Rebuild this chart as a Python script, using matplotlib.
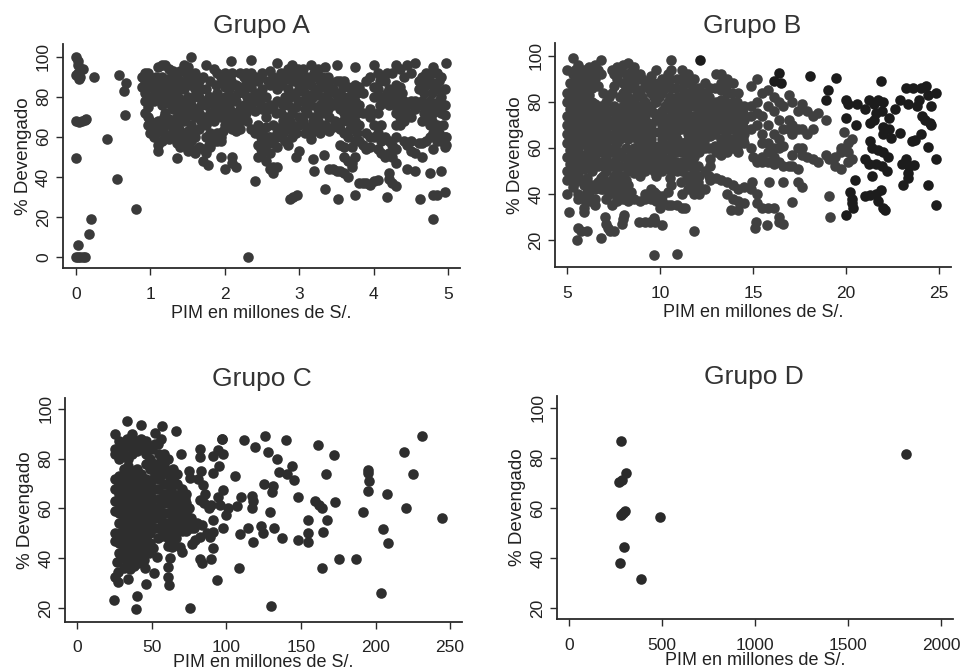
import matplotlib
matplotlib.use("Agg")
import matplotlib.pyplot as plt

plt.rcParams['font.family'] = ['Liberation Sans', 'DejaVu Sans']

# (PIM, % devengado)
grupo_a = [
 (0,100),(0.02,98),(0.02,96),(0.03,92),(0,91),(0.05,90),(0.04,89),(0.1,94),(0.24,90),(0,68),(0.04,67.5),(0.08,68),(0.12,68.5),(0.13,69),
 (0.42,59),(0,49.5),(0.55,39),(0.81,24),(0.2,19),(0.18,11.5),(0.03,6),(0,0),(0.03,0),(0.05,0),(0.1,0),(0.12,0),(2.31,0),(0.58,91),(0.67,87),(0.64,83),(0.66,71),
 (0.88,90),(0.88,85),(0.92,92),(0.92,88),(0.92,82),(0.92,78),(0.92,72),(0.97,92),(0.97,85),(0.97,75),(0.97,70),(0.97,66),(1.0,90),(1.0,80),(1.0,62),(1.0,68),
 (1.05,88),(1.05,84),(1.05,78),(1.05,65),(1.05,60),(1.1,95),(1.1,86),(1.1,80),(1.1,68),(1.1,56),(1.1,53),(1.15,96),(1.15,90),(1.15,83),(1.15,76),(1.15,65),(1.15,58),
 (1.2,96),(1.2,88),(1.2,82),(1.2,72),(1.2,66),(1.2,60),(1.25,94),(1.25,85),(1.25,78),(1.25,69),(1.25,59),(1.3,93),(1.3,86),(1.3,80),(1.3,74),(1.3,63),(1.3,60),
 (1.35,90),(1.35,82),(1.35,76),(1.35,70),(1.35,66),(1.35,57),(1.35,49.5),(1.4,93),(1.4,88),(1.4,79),(1.4,72),(1.4,61),(1.4,55),(1.45,96),(1.45,84),(1.45,75),(1.45,68),(1.45,58),
 (1.5,95),(1.5,90),(1.5,80),(1.5,72),(1.5,63),(1.5,53),(1.55,100),(1.55,86),(1.55,76),(1.55,66),(1.55,58),(1.55,54),(1.6,92),(1.6,84),(1.6,74),(1.6,70),(1.6,60),(1.6,52),
 (1.65,88),(1.65,80),(1.65,72),(1.65,64),(1.65,55),(1.7,90),(1.7,78),(1.7,70),(1.7,54),(1.7,48),(1.75,96),(1.75,84),(1.75,76),(1.75,66),(1.75,60),(1.75,52),(1.77,46),
 (1.8,88),(1.8,80),(1.8,72),(1.8,62),(1.8,55),(1.85,94),(1.85,76),(1.85,68),(1.85,58),(1.9,92),(1.9,82),(1.9,74),(1.9,62),(1.9,58),(1.95,50),(1.95,90),(1.95,78),(1.95,70),(1.95,60),(1.95,58),
 (2.0,92),(2.0,85),(2.0,80),(2.0,72),(2.0,66),(2.0,44),(2.05,90),(2.05,84),(2.05,76),(2.05,68),(2.08,98),(2.1,92),(2.1,80),(2.1,70),(2.1,64),(2.1,50),(2.1,47),
 (2.15,86),(2.15,78),(2.15,66),(2.15,63),(2.15,45),(2.2,92),(2.2,85),(2.2,74),(2.2,68),(2.2,64),(2.25,90),(2.25,82),(2.25,76),(2.25,70),(2.3,88),(2.3,80),(2.3,74),(2.3,68),
 (2.35,98.5),(2.35,92),(2.35,85),(2.35,76),(2.35,64),(2.4,90),(2.4,82),(2.4,73),(2.4,62),(2.4,38),(2.45,88),(2.45,78),(2.45,66),(2.45,56),(2.45,50),
 (2.5,92),(2.5,84),(2.5,74),(2.5,62),(2.5,58),(2.5,52),(2.55,80),(2.55,70),(2.55,65),(2.55,56),(2.55,48),(2.6,93),(2.6,86),(2.6,76),(2.6,60),(2.6,52),(2.6,44),
 (2.65,90),(2.65,75),(2.65,66),(2.65,57),(2.65,42),(2.65,45),(2.7,97),(2.7,84),(2.7,78),(2.7,62),(2.7,55),(2.7,45),(2.75,92),(2.75,86),(2.75,72),(2.75,65),(2.75,60),
 (2.8,90),(2.8,80),(2.8,70),(2.8,58),(2.85,94),(2.85,84),(2.85,76),(2.85,64),(2.85,56),(2.9,96),(2.9,88),(2.9,72),(2.9,66),(2.9,60),(2.87,29),(2.95,92),(2.95,82),(2.95,75),(2.95,62),(2.95,50),(2.92,30),(2.97,31),
 (3.0,90),(3.0,84),(3.0,70),(3.0,66),(3.0,53),(3.05,94),(3.05,85),(3.05,78),(3.05,68),(3.1,90),(3.1,80),(3.1,72),(3.1,65),(3.15,96),(3.15,86),(3.15,76),(3.15,62),(3.15,59),
 (3.2,92),(3.2,82),(3.2,70),(3.2,65),(3.18,49),(3.2,43),(3.25,94),(3.25,84),(3.25,74),(3.25,68),(3.3,90),(3.3,80),(3.3,72),(3.3,64),(3.35,95),(3.35,85),(3.35,76),(3.35,66),(3.33,51),(3.35,34),
 (3.4,88),(3.4,78),(3.4,70),(3.4,63),(3.4,44),(3.45,84),(3.45,76),(3.45,65),(3.45,44),(3.5,96),(3.5,88),(3.5,78),(3.5,66),(3.5,43),(3.52,29),(3.55,88),(3.55,82),(3.55,74),(3.55,64),(3.55,56),(3.55,43),
 (3.6,88),(3.6,80),(3.6,72),(3.6,62),(3.6,55),(3.6,50),(3.6,42),(3.65,85),(3.65,76),(3.65,68),(3.65,60),(3.65,48),(3.65,40),(3.7,82),(3.7,74),(3.7,66),(3.7,55),(3.7,47),(3.7,45),
 (3.75,95),(3.75,86),(3.75,78),(3.75,68),(3.75,58),(3.75,50),(3.75,31),(3.8,85),(3.8,76),(3.8,66),(3.8,58),(3.8,37),(3.85,82),(3.85,72),(3.85,56),(3.85,37),(3.9,88),(3.9,62),(3.9,54),(3.9,37),
 (3.95,90),(3.95,74),(3.95,70),(3.95,60),(3.95,55),(3.95,36),(4.0,96),(4.0,85),(4.0,80),(4.0,66),(4.0,60),(4.0,38),(4.05,92),(4.05,84),(4.05,72),(4.05,62),(4.05,54),(4.05,38.5),
 (4.1,90),(4.1,80),(4.1,66),(4.1,58),(4.1,52),(4.15,88),(4.15,78),(4.15,60),(4.15,50),(4.2,84),(4.2,76),(4.2,58),(4.2,52),(4.2,42),(4.2,39),(4.17,30),(4.25,92),(4.25,80),(4.25,56),(4.25,50),(4.25,37),
 (4.3,96),(4.3,86),(4.3,72),(4.3,66),(4.3,60),(4.3,54),(4.3,47),(4.3,35.5),(4.35,94),(4.35,85),(4.35,78),(4.35,70),(4.35,66),(4.4,90),(4.4,78),(4.4,68),(4.4,58),(4.45,96),(4.45,76),(4.45,72),(4.45,56),(4.45,44),
 (4.5,92),(4.5,78),(4.5,70),(4.5,58),(4.5,53),(4.55,97),(4.55,78),(4.55,74),(4.55,52),(4.55,43),(4.6,88),(4.6,84),(4.6,76),(4.6,57),(4.62,29),(4.65,90),(4.65,84),(4.65,78),(4.65,68),(4.65,57),(4.65,50),
 (4.7,92),(4.7,86),(4.7,76),(4.7,70),(4.7,58),(4.75,88),(4.75,78),(4.75,66),(4.75,60),(4.75,42),(4.8,95),(4.8,86),(4.8,72),(4.8,62),(4.8,54),(4.8,31),(4.8,19),
 (4.85,92),(4.85,84),(4.85,76),(4.85,66),(4.85,58),(4.85,31),(4.9,90),(4.9,80),(4.9,72),(4.9,58),(4.9,43),(4.95,84),(4.95,76),(4.95,71),(4.95,60),(4.95,55),(4.95,32.5),(4.97,97),(4.97,60),(4.97,56),
 # filling the solid part of the cloud
 (1.08,90),(1.08,83),(1.08,62),(1.18,86),(1.18,79),(1.18,70),(1.18,62),(1.28,90),(1.28,83),(1.28,76),(1.28,66),(1.38,86),(1.38,74),(1.38,64),(1.38,59),
 (1.48,92),(1.48,86),(1.48,77),(1.48,70),(1.48,60),(1.48,56),(1.58,88),(1.58,80),(1.58,72),(1.58,62),(1.68,84),(1.68,76),(1.68,68),(1.78,80),(1.78,70),(1.78,56),
 (1.88,86),(1.88,80),(1.88,72),(1.98,88),(1.98,75),(1.98,63),(2.08,88),(2.08,78),(2.08,73),(2.18,82),(2.18,71),(2.28,92),(2.28,86),(2.28,72),(2.38,88),(2.38,80),
 (2.48,90),(2.48,81),(2.48,76),(2.48,60),(2.48,54),(2.58,88),(2.58,74),(2.58,60),(2.68,88),(2.68,72),(2.68,60),(2.78,88),(2.78,76),(2.78,68),(2.78,62),(2.88,90),(2.88,80),(2.88,68),
 (2.98,94),(2.98,87),(2.98,78),(3.08,88),(3.08,82),(3.08,74),(3.08,62),(3.18,90),(3.18,80),(3.18,68),(3.28,88),(3.28,76),(3.28,62),(3.38,90),(3.38,82),(3.38,74),(3.48,82),(3.48,68),
 (3.58,85),(3.58,78),(3.58,68),(3.68,80),(3.68,72),(3.68,64),(3.78,82),(3.78,72),(3.78,62),(4.08,88),(4.08,76),(4.18,92),(4.18,82),(4.28,82),(4.28,76),(4.38,82),(4.38,74),
 (4.68,88),(4.68,82),(4.68,72),(4.78,92),(4.78,82),(4.78,74),(4.78,68),(4.88,88),(4.88,78),(4.88,74),(4.88,62),(4.93,66),(4.93,76),
]

grupo_b = [
 (5.0,94),(5.0,84),(5.0,80),(5.0,74),(5.0,70),(5.0,66),(5.0,62),(5.0,56),(5.0,50),(5.0,46),(5.0,40),(5.1,32),
 (5.3,99),(5.3,92),(5.3,86),(5.3,80),(5.3,76),(5.3,70),(5.3,64),(5.3,58),(5.3,52),(5.3,48),(5.3,43),
 (5.6,96),(5.6,90),(5.6,84),(5.6,78),(5.6,72),(5.6,66),(5.6,60),(5.6,54),(5.6,48),(5.6,40),(5.6,38),(5.6,25),(5.55,20),(5.75,24),
 (5.9,94),(5.9,88),(5.9,82),(5.9,76),(5.9,70),(5.9,64),(5.9,57),(5.9,51),(5.9,44),(5.9,38),(5.9,34),(5.9,32),(6.1,24),
 (6.2,95),(6.2,89),(6.2,83),(6.2,77),(6.2,71),(6.2,65),(6.2,59),(6.2,53),(6.2,41),(6.2,37),
 (6.5,96),(6.5,90),(6.5,79),(6.5,73),(6.5,67),(6.5,61),(6.5,55),(6.5,42),(6.5,38),(6.5,35),
 (6.8,98),(6.8,92),(6.8,78),(6.8,72),(6.8,66),(6.8,60),(6.8,54),(6.8,47),(6.8,42),(6.85,21),
 (7.1,80),(7.1,74),(7.1,68),(7.1,62),(7.1,56),(7.1,50),(7.1,45),(7.1,38),(7.05,30),(7.1,27),(7.2,25),(7.3,24),
 (7.4,94),(7.4,84),(7.4,76),(7.4,70),(7.4,64),(7.4,58),(7.4,52),(7.4,46),(7.4,41),(7.4,35),(7.5,24),
 (7.7,95),(7.7,90),(7.7,74),(7.7,68),(7.7,62),(7.7,56),(7.7,50),(7.7,44),(7.7,38),(7.7,37),
 (8.0,96),(8.0,88),(8.0,84),(8.0,78),(8.0,72),(8.0,66),(8.0,56),(8.0,48),(8.0,42),(8.0,38),(8.05,31),(8.0,29),(7.95,27),
 (8.3,97),(8.3,90),(8.3,82),(8.3,76),(8.3,70),(8.3,64),(8.3,55),(8.3,50),(8.3,44),(8.3,37),
 (8.6,95),(8.6,88),(8.6,80),(8.6,74),(8.6,68),(8.6,60),(8.6,54),(8.6,49),(8.6,38),
 (8.9,92),(8.9,85),(8.9,78),(8.9,72),(8.9,66),(8.9,60),(8.9,54),(8.9,48),(8.9,37),(8.85,28),
 (9.2,88),(9.2,80),(9.2,74),(9.2,68),(9.2,62),(9.2,56),(9.2,50),(9.2,40),(9.2,38),(9.2,28),
 (9.5,91),(9.5,84),(9.5,78),(9.5,70),(9.5,64),(9.5,58),(9.5,52),(9.5,42),(9.5,38),(9.45,28),
 (9.8,94),(9.8,86),(9.8,80),(9.8,72),(9.8,60),(9.8,54),(9.8,48),(9.8,40),(9.8,37),(9.65,29.5),(9.75,28),(9.7,13.5),
 (10.1,90),(10.1,84),(10.1,76),(10.1,70),(10.1,64),(10.1,58),(10.1,50),(10.1,39),(10.1,37),(10.0,34),(10.1,26.5),
 (10.4,92),(10.4,88),(10.4,80),(10.4,72),(10.4,66),(10.4,60),(10.4,52),(10.4,41),(10.4,35),
 (10.6,98),(10.6,94),(10.6,86),(10.6,74),(10.6,68),(10.6,62),(10.6,56),(10.6,50),(10.6,44),(10.6,35),
 (10.9,90),(10.9,82),(10.9,76),(10.9,70),(10.9,64),(10.9,58),(10.9,50),(10.9,35),(10.9,14),
 (11.2,94),(11.2,86),(11.2,78),(11.2,72),(11.2,62),(11.2,54),(11.2,50),(11.2,40),(11.2,34),
 (11.5,92),(11.5,84),(11.5,80),(11.5,74),(11.5,66),(11.5,60),(11.5,52),(11.5,46),(11.5,42),(11.35,34),
 (11.8,90),(11.8,82),(11.8,74),(11.8,68),(11.8,62),(11.8,56),(11.8,50),(11.8,44),(11.8,40),(11.8,24),
 (12.1,86),(12.1,80),(12.1,76),(12.1,70),(12.1,62),(12.1,58),(12.1,48),(12.1,43),(12.1,40),
 (12.4,88),(12.4,84),(12.4,78),(12.4,72),(12.4,66),(12.4,60),(12.4,50),(12.4,42),
 (12.7,86),(12.7,78),(12.7,72),(12.7,70),(12.7,65),(12.7,55),(12.7,52),(12.7,46),
 (13.0,92),(13.0,80),(13.0,74),(13.0,68),(13.0,58),(13.0,47),
 (13.3,92),(13.3,85),(13.3,78),(13.3,72),(13.3,68),(13.3,60),(13.3,57),(13.3,46),
 (13.6,90),(13.6,84),(13.6,76),(13.6,70),(13.6,62),(13.6,58),(13.6,45),(13.6,40),(13.8,33),
 (13.9,88),(13.9,80),(13.9,74),(13.9,68),(13.9,60),(13.9,44),(13.9,38),
 (14.2,84),(14.2,76),(14.2,70),(14.2,63),(14.2,58),(14.2,42),(14.2,37),(14.2,33),
 (14.5,78),(14.5,72),(14.5,66),(14.5,62),(14.5,43),(14.5,36),
 (14.9,87),(14.9,78),(14.9,74),(14.9,68),(14.9,60),(14.9,42),(14.95,45),
 (15.2,90),(15.2,80),(15.2,75),(15.2,70),(15.0,56),(15.2,54),(15.2,40),(15.2,36),(15.1,25),(15.15,28),
 (15.5,84),(15.5,74),(15.5,66),(15.5,62),(15.5,56),(15.5,54),(15.5,34),
 (15.8,85),(15.8,78),(15.8,70),(15.8,62),(15.8,58),(15.8,54),(15.85,45),(15.75,26.5),(15.8,34),
 (16.1,82),(16.1,76),(16.1,66),(16.1,60),(16.1,56),(16.1,53),(16.1,34),
 (16.4,80),(16.4,72),(16.4,64),(16.4,60),(16.4,54),(16.4,30),(16.4,28),
 (16.6,78),(16.6,68),(16.6,61),(16.6,52),(16.6,45),(16.6,27),
 (16.9,83),(16.9,72),(16.9,68),(16.9,52),
 (17.1,80),(17.1,70),(17.1,66),(17.1,57),(17.1,52),(17.1,36.5),
 (17.4,76),(17.4,68),(17.4,60),(17.4,51),(17.4,45),
 (17.6,79),(17.6,68),(17.6,60),(17.6,57),(17.6,43),
 (17.9,76),(17.9,66),(17.9,56),(18.2,74),(18.2,68),(18.2,55),(18.5,75),(18.5,54),(18.9,72),(18.9,57),
 (19.1,55),(19.1,39),(19.15,30),(19.4,56),(19.4,52),(19.7,60),(19.7,58),(19.7,51),(19.9,67),
 (20.1,62),(20.1,58),(20.1,54),(20.3,64),(20.3,55),
 # filling the solid part of the cloud
 (5.15,88),(5.15,82),(5.15,77),(5.15,72),(5.15,68),(5.15,64),(5.15,59),(5.15,53),(5.15,48),
 (5.45,94),(5.45,88),(5.45,83),(5.45,78),(5.45,73),(5.45,67),(5.45,61),(5.45,55),(5.45,50),(5.45,45),
 (5.75,93),(5.75,87),(5.75,81),(5.75,75),(5.75,69),(5.75,63),(5.75,57),(5.75,51),(5.75,46),
 (6.05,91),(6.05,85),(6.05,79),(6.05,73),(6.05,67),(6.05,61),(6.05,54),(6.05,47),(6.05,41),
 (6.35,92),(6.35,86),(6.35,80),(6.35,74),(6.35,68),(6.35,62),(6.35,56),(6.35,50),(6.35,44),
 (6.65,94),(6.65,87),(6.65,76),(6.65,70),(6.65,64),(6.65,58),(6.65,52),(6.65,45),
 (6.95,84),(6.95,76),(6.95,70),(6.95,64),(6.95,58),(6.95,52),(6.95,48),(6.95,42),
 (7.25,82),(7.25,76),(7.25,71),(7.25,65),(7.25,59),(7.25,53),(7.25,42),(7.25,40),
 (7.55,92),(7.55,87),(7.55,78),(7.55,72),(7.55,66),(7.55,60),(7.55,54),(7.55,48),(7.55,42),
 (7.85,93),(7.85,82),(7.85,76),(7.85,70),(7.85,64),(7.85,58),(7.85,52),(7.85,46),(7.85,40),
 (8.15,92),(8.15,86),(8.15,80),(8.15,74),(8.15,68),(8.15,60),(8.15,52),(8.15,46),(8.15,40),
 (8.45,93),(8.45,86),(8.45,78),(8.45,72),(8.45,66),(8.45,58),(8.45,52),(8.45,41),
 (8.75,90),(8.75,83),(8.75,76),(8.75,70),(8.75,64),(8.75,57),(8.75,51),
 (9.05,90),(9.05,82),(9.05,76),(9.05,70),(9.05,64),(9.05,58),(9.05,52),
 (9.35,86),(9.35,76),(9.35,71),(9.35,65),(9.35,59),(9.35,53),
 (9.65,88),(9.65,82),(9.65,75),(9.65,67),(9.65,61),(9.65,56),(9.65,50),(9.65,41),
 (9.95,88),(9.95,82),(9.95,74),(9.95,67),(9.95,61),(9.95,56),(9.95,52),
 (10.25,86),(10.25,78),(10.25,73),(10.25,67),(10.25,61),(10.25,55),
 (10.55,90),(10.55,82),(10.55,77),(10.55,71),(10.55,65),(10.55,59),(10.55,53),(10.55,47),
 (10.85,86),(10.85,79),(10.85,73),(10.85,67),(10.85,61),(10.85,54),
 (11.15,90),(11.15,82),(11.15,75),(11.15,68),(11.15,58),(11.15,52),(11.15,45),
 (11.45,88),(11.45,77),(11.45,70),(11.45,63),(11.45,56),(11.45,48),
 (11.75,86),(11.75,78),(11.75,71),(11.75,65),(11.75,59),(11.75,53),(11.75,47),
 (12.05,83),(12.05,73),(12.05,66),(12.05,60),(12.05,52),(12.05,45),
 (12.35,81),(12.35,75),(12.35,69),(12.35,63),(12.65,82),(12.65,75),(12.65,68),(12.65,60),(12.65,48),
 (12.95,86),(12.95,77),(12.95,71),(12.95,66),(12.95,61),(13.25,88),(13.25,81),(13.25,75),(13.25,70),(13.25,64),
 (13.55,87),(13.55,80),(13.55,73),(13.55,66),(13.55,60),(13.85,84),(13.85,77),(13.85,71),(13.85,64),
 (14.15,80),(14.15,73),(14.15,67),(14.15,60),(14.45,75),(14.45,69),(14.45,64),
]
grupo_b_oscuro = [
 (12.15,98),(16.4,92.5),(16.1,89),(16.5,88),(18.05,91),(19.45,90.5),(21.85,89),(19.0,85),(18.9,81),(20.0,81),(20.1,79),(20.6,79),(21.0,77),
 (21.2,81),(21.5,79),(21.7,81),(22.0,80),(21.9,76),(21.6,75),(21.5,72),(21.3,71),(22.3,73),(22.6,77),(22.9,81),(23.3,79),(23.2,86),(23.6,86),(24.0,86),(24.3,87),
 (24.4,83),(24.85,84),(23.9,81),(23.8,78),(24.05,74),(24.25,72),(24.5,71),(24.55,70),(24.55,78),(20.0,73),(20.5,70),(21.3,63),(21.4,60),(22.0,69),(22.3,68),
 (22.0,66),(22.4,64.5),(22.9,66.5),(24.0,66),(23.7,63.5),(23.55,63),(24.4,60.5),(21.7,59),(22.0,58),(22.25,56),(24.85,55),(21.0,55),(21.2,53),(21.6,53),(21.9,52),
 (22.2,50),(23.0,53),(23.2,55),(23.4,52),(23.65,52.5),(23.3,49),(23.3,47),(23.05,44),(21.4,48),(20.45,46),(24.4,44),(20.2,41),(20.3,38),(20.3,36),(20.35,34),
 (20.0,31),(21.0,39),(21.3,39.5),(21.6,40),(21.85,41.5),(21.7,37),(22.0,34),(22.1,33),(24.8,35),
]

grupo_c = [
 (33,95),(43,93.5),(57,93),(66,91),(25,90),(52,90.5),(56,88),(54,86),(50,84),(112,87.5),(126,89),(140,87.5),(97,88),(161.5,85.5),(119,84.5),(128,82.5),(172,81.5),(219,82.5),(231,89),
 (134,80),(143.8,77),(135.5,74.8),(140.9,73.9),(145.6,71.5),(167,73.8),(195,75.5),(194.8,74.4),(195.7,71.2),(195.2,67),(207.5,65.8),(225,73.8),(220.5,60.2),(244.4,56),(191.4,58.5),
 (204.8,51.6),(208.6,46),(186.7,39.7),(175.5,39.7),(164,36.2),(204,26),(129.7,21),(75.6,20),(39.4,19.5),(39.8,24.8),(24.8,23.2),(159.4,63),(162.4,61.4),(164,60),(173,62.4),
 (167.7,55.4),(164.6,50.6),(154.5,55.4),(154.5,50),(154.5,46.4),(148,47.3),(137.5,48),(131.7,52),(129.3,58.5),(148,64.6),(125.2,69.9),(131.5,69),(130.4,66.8),(123,53),(124.8,50.3),
 (117.6,46.4),(114.7,52),(109,49.6),(108.7,36),(93.5,31.3),(106,73),(110,64.8),(117,65),(118,62.8),(117,60),(107,60.8),(101,60),(100,57.4),(98,52),(91,55.4),(91,44),(89.7,39.6),
 (82.3,39.6),(83.4,38),(98,67.5),(96.8,87.8),(98,82),(94.6,83.5),(91,81),(95,77),(91,74.4),(82.3,84),(82.3,80.6),(69.5,81.8),(75,75),(75.6,72.4),(83,75),(81,72),(84.5,69.5),
 (85.6,66),(82,63.4),(90,61.4),(95.7,61.4),(94.6,64.8),(86.8,50),(82.3,48.7),(76.7,45.6),(79,47.3),(89,48.7),(91,50.7),(83.4,53.4),(70.4,42.6),(69,44.7),(63.3,44.7),(62,40),(61,36.6),
 (61,32.6),(61.5,29.2),(53.2,40.4),(51.7,34),(46,29.6),(45.4,36),(44.7,39.3),(35.3,35.5),(34.2,31.7),(27.5,30.6),(25.3,32.6),(27.5,34.6),(26.4,38.6),
 (25,84),(25,82),(25,72),(25,68),(25,63),(25,59),(25,50),(25,47),
 (28,87),(28,84),(28,80),(28,73),(28,70),(28,66),(28,62),(28,58),(28,54),(28,50),(28,46),(28,42),
 (31,86),(31,82),(31,76),(31,72),(31,68),(31,64),(31,60),(31,56),(31,52),(31,48),(31,44),(31,40),(31,36),
 (34,85),(34,80),(34,77),(34,73),(34,69),(34,65),(34,61),(34,57),(34,53),(34,49),(34,45),(34,41),
 (37,86),(37,82),(37,75),(37,71),(37,67),(37,63),(37,59),(37,55),(37,51),(37,47),(37,43),(37,39),
 (40,87),(40,83),(40,76),(40,72),(40,68),(40,64),(40,60),(40,56),(40,52),(40,48),(40,44),(40,41),
 (43,88),(43,84),(43,74),(43,70),(43,66),(43,62),(43,58),(43,54),(43,50),(43,46),(43,42),
 (46,87),(46,82),(46,78),(46,72),(46,68),(46,64),(46,60),(46,56),(46,52),(46,48),(46,45),
 (49,85),(49,80),(49,76),(49,70),(49,66),(49,62),(49,58),(49,54),(49,50),(49,46),
 (52,86),(52,78),(52,74),(52,68),(52,60),(52,56),(52,52),
 (55,82),(55,76),(55,72),(55,64),(55,60),(55,56),(55,52),
 (58,82),(58,78),(58,70),(58,66),(58,62),(58,58),(58,52),
 (61,80),(61,74),(61,62),(61,58),(61,54),(61,48),(61,45),
 (64,76),(64,72),(64,66),(64,60),(64,56),(64,50),(64,46),
 (67,74),(67,70),(67,64),(67,60),(67,56),(67,52),
 (70,68),(70,64),(70,60),(70,56),(70,51),
 (73,66),(73,62),(73,58),(73,54),(73,51),(76,56),(76,52),(80,54),
 (51,72),(51,64),(54,68),(54,58),(54,48),(57,74),(57,64),(57,55),(57,49),(60,70),(60,66),(60,50),(63,63),(63,53),(63,68),(66,62),(66,58),(66,54),(66,48),
 (69,66),(69,58),(69,53),(72,60),(72,56),(72,64),(75,60),(75,54),(78,52),(47,50),(51,44),(48,42),(33,88),(37,90),(42,86),(46,84),(29,40),(33,38),(38,37),(41,38),(44,44),
 (56,79),(59,76),(62,71),(65,74),(85,62),(88,60),
]

grupo_d = [(280,86.8),(306,73.9),(283,71.2),(267,70.5),(301,58.7),(288,58),(280,57.2),(487,56.6),(294,44.6),(272,38),(385,31.6),(1812,81.7)]

xlabel = "PIM en millones de S/."
ylabel = "% Devengado"
yticks_a = [0, 20, 40, 60, 80, 100]
yticks_rest = [20, 40, 60, 80, 100]


def panel(box, xlim, ylim, title, title_xy, xticks, yticks, xpad=2):
    # box is left, top, right, bottom in pixels of the 962x670 picture
    l, t, r, b = box
    ax = fig.add_axes([l / 962, 1 - b / 670, (r - l) / 962, (b - t) / 670])
    ax.set_xlim(xlim)
    ax.set_ylim(ylim)
    ax.set_xticks(xticks)
    ax.set_yticks(yticks)
    ax.spines[['top', 'right']].set_visible(False)
    ax.spines[['left', 'bottom']].set_linewidth(1.3)
    ax.spines[['left', 'bottom']].set_color('#2a2a2a')
    ax.tick_params(length=5, width=1, color='#2a2a2a', labelsize=12.5, labelcolor='#222222')
    ax.tick_params(axis='x', pad=8.5)
    ax.tick_params(axis='y', pad=3.5)
    plt.setp(ax.get_yticklabels(), rotation=90, va='center')
    ax.set_xlabel(xlabel, fontsize=13, color='#222222', labelpad=xpad)
    ax.set_ylabel(ylabel, fontsize=13.5, color='#222222', labelpad=3)
    fig.text(title_xy[0] / 962, 1 - title_xy[1] / 670, title, fontsize=19, color='#333333', ha='center', va='center')
    return ax


def puntos(ax, datos, color):
    ax.scatter([d[0] for d in datos], [d[1] for d in datos], s=58, color=color, linewidths=0, clip_on=False)


fig = plt.figure(figsize=(9.62, 6.7), dpi=100)

ax = panel((62.7, 44.3, 460, 268.3), (-0.179, 5.157), (-5.6, 106.2), "Grupo A", (261, 26), [0, 1, 2, 3, 4, 5], yticks_a)
puntos(ax, grupo_a, '#3a3a3a')

ax = panel((555, 43.3, 951, 267.3), (4.355, 25.63), (8.15, 105.4), "Grupo B", (752, 26), [5, 10, 15, 20, 25], yticks_rest)
puntos(ax, grupo_b, '#404040')
puntos(ax, grupo_b_oscuro, '#1c1c1c')

ax = panel((65, 397.7, 462, 621.7), (-8.25, 258), (14.5, 104.5), "Grupo C", (262, 379), [0, 50, 100, 150, 200, 250], yticks_rest, xpad=-1)
puntos(ax, grupo_c, '#2e2e2e')

ax = panel((557, 395.7, 952.7, 619.3), (-64.5, 2063), (15.6, 104.8), "Grupo D", (754, 377), [0, 500, 1000, 1500, 2000], yticks_rest, xpad=-1)
puntos(ax, grupo_d, '#2a2a2a')

fig.savefig('out.png', dpi=100)
